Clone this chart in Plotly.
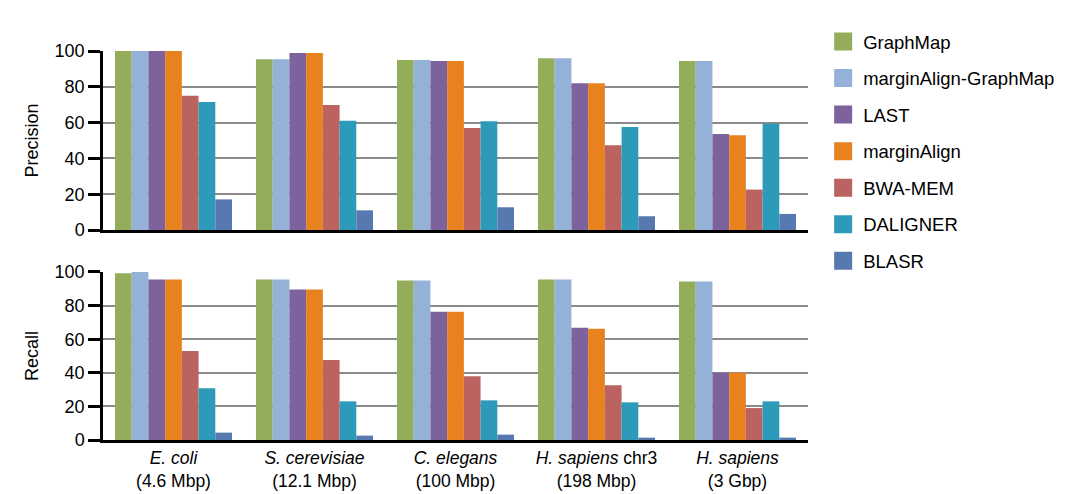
import plotly.graph_objects as go

categories = ["<i>E. coli</i><br>(4.6 Mbp)", "<i>S. cerevisiae</i><br>(12.1 Mbp)",
              "<i>C. elegans</i><br>(100 Mbp)", "<i>H. sapiens</i> chr3<br>(198 Mbp)",
              "<i>H. sapiens</i><br>(3 Gbp)"]
tools = ["GraphMap", "marginAlign-GraphMap", "LAST", "marginAlign", "BWA-MEM", "DALIGNER", "BLASR"]

precision_graphmap = [100, 95.4, 95.0, 96.0, 94.4]
precision_ma_graphmap = [100, 95.4, 95.0, 96.0, 94.4]
precision_last = [100, 98.9, 94.4, 82.0, 53.6]
precision_marginalign = [100, 98.9, 94.4, 82.0, 53.0]
precision_bwamem = [75.0, 69.8, 57.0, 47.4, 22.6]
precision_daligner = [71.5, 61.0, 60.8, 57.5, 59.3]
precision_blasr = [17.1, 11.0, 12.7, 7.7, 9.0]

recall_graphmap = [99.2, 95.6, 95.0, 95.6, 94.4]
recall_ma_graphmap = [100, 95.6, 95.0, 95.6, 94.4]
recall_last = [95.6, 89.6, 76.4, 66.8, 40.0]
recall_marginalign = [95.6, 89.6, 76.4, 66.2, 40.0]
recall_bwamem = [53.0, 47.6, 38.0, 32.6, 19.0]
recall_daligner = [30.8, 23.0, 23.6, 22.4, 23.0]
recall_blasr = [4.4, 2.6, 3.2, 1.4, 1.4]

colors = ["#93ad5b", "#94b1d8", "#7d629e", "#e8821f", "#bb6360", "#2c9ab8", "#5679b0"]

precision = [precision_graphmap, precision_ma_graphmap, precision_last, precision_marginalign,
             precision_bwamem, precision_daligner, precision_blasr]
recall = [recall_graphmap, recall_ma_graphmap, recall_last, recall_marginalign,
          recall_bwamem, recall_daligner, recall_blasr]

fig = go.Figure()
for name, vals, col in zip(tools, precision, colors):
    fig.add_trace(go.Bar(x=categories, y=vals, name=name, marker=dict(color=col, line=dict(width=0)),
                         xaxis="x", yaxis="y", showlegend=False))
for name, vals, col in zip(tools, recall, colors):
    fig.add_trace(go.Bar(x=categories, y=vals, name=name, marker=dict(color=col, line=dict(width=0)),
                         xaxis="x2", yaxis="y2", showlegend=False))
for i, (name, col) in enumerate(zip(tools, colors)):
    fig.add_trace(go.Scatter(x=[None], y=[None], mode="markers", name=name, legendgroup=f"g{i}",
                             marker=dict(symbol="square", size=16, color=col, line=dict(color=col, width=2)),
                             xaxis="x", yaxis="y"))

font = "Liberation Sans, Arial, sans-serif"
yax = dict(range=[0, 100], tickvals=[0, 20, 40, 60, 80, 100], showgrid=True, gridcolor="#8a8a8a",
           gridwidth=1.5, showline=True, linecolor="black", linewidth=2.5, ticks="outside",
           ticklen=12, tickwidth=2.5, tickcolor="black", zeroline=False, automargin=False,
           tickfont=dict(size=18, color="black", family=font), title_standoff=12)
xax = dict(type="category", range=[-0.5, 4.5], showline=True, linecolor="black", linewidth=3,
           ticks="", showgrid=False, zeroline=False, automargin=False)

fig.update_layout(
    width=1063, height=486,
    margin=dict(l=95, r=263, t=43, b=54, autoexpand=False),
    paper_bgcolor="white", plot_bgcolor="white",
    barmode="group", bargap=0.17, bargroupgap=0,
    font=dict(family=font, color="black"),
    xaxis=dict(**xax, domain=[0, 1], anchor="y", showticklabels=False),
    xaxis2=dict(**xax, domain=[0, 1], anchor="y2", showticklabels=True,
                tickfont=dict(size=17.5, family=font, color="black")),
    yaxis=dict(**yax, domain=[0.5398, 1.0], anchor="x",
               title=dict(text="Precision", font=dict(size=18, family=font, color="black"))),
    yaxis2=dict(**yax, domain=[0.0, 0.4319], anchor="x2",
                title=dict(text="Recall", font=dict(size=18, family=font, color="black"))),
    legend=dict(x=1.0215, y=1.072, xanchor="left", yanchor="top", tracegroupgap=9.5,
                font=dict(size=18.5, family=font, color="black"), itemsizing="trace",
                bgcolor="rgba(0,0,0,0)", maxheight=450),
)

fig.write_html("out.html")
